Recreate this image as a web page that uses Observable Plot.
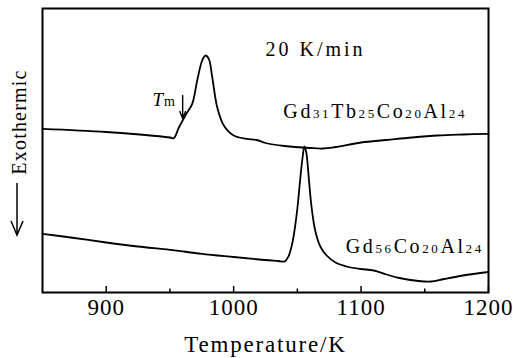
<!DOCTYPE html>
<html><head><meta charset="utf-8">
<script src="https://cdn.jsdelivr.net/npm/d3@7"></script>
<script src="https://cdn.jsdelivr.net/npm/@observablehq/plot@0.6"></script>
<style>body{margin:0;background:#fff}</style>
</head><body><div id="chart"></div>
<script>
// Gd31Tb25Co20Al24 DSC trace
const temp1 = [850, 900, 950, 953, 957, 960, 963.5, 967.5, 971.4, 975.3, 977.9, 980.5, 983.2, 987.1, 992.3, 1000, 1010, 1018, 1025, 1040, 1060, 1070, 1080, 1100, 1120, 1140, 1160, 1180, 1200];
const signal1 = [163.7, 160.5, 155, 154.3, 165, 172, 180, 188.7, 212, 232, 237, 233.7, 215.3, 185.3, 167, 157, 153.7, 152.5, 149.5, 146.5, 144.5, 144, 145.5, 150, 152.5, 155, 157, 158, 158.7];
// Gd56Co20Al24 DSC trace
const temp2 = [850, 875, 900, 925, 950, 975, 1000, 1020, 1035, 1040, 1043, 1046, 1048, 1050, 1052, 1054, 1055.5, 1057, 1059, 1061, 1064, 1068, 1073, 1080, 1090, 1100, 1110, 1120, 1130, 1145, 1155, 1165, 1180, 1200];
const signal2 = [58.7, 54.5, 50, 46, 42.7, 38.7, 35.5, 33, 31.5, 31, 36, 49, 64, 84, 110, 134, 146, 140, 114, 87, 62, 46, 37, 30, 25.5, 23.5, 22, 18, 14.5, 11.5, 11, 13.5, 17, 20.5];

const xTicks = [900, 1000, 1100, 1200];
const xMinorTicks = [950, 1050, 1150];
const seriesLabels = ["Gd31Tb25Co20Al24", "Gd56Co20Al24"];
const seriesLabelX = [1039, 1088];
const seriesLabelY = [175, 39.3];
const rateLabel = "20 K/min";
const rateX = 1025, rateY = 237;
const tmLabel = "Tm";
const tmTextX = 936.3, tmTextY = 187;
const tmArrowX = 960, tmArrowY1 = 197, tmArrowY2 = 174;
const xLabel = "Temperature/K";
const yLabel = "Exothermic";

const FONT = "'Liberation Serif', 'Times New Roman', serif";
const W = 513, H = 358, mT = 8, mB = 66, mL = 42, mR = 25;
const innerH = H - mT - mB;

const d1 = temp1.map((t, i) => ({t, v: signal1[i]}));
const d2 = temp2.map((t, i) => ({t, v: signal2[i]}));
const labelData = seriesLabels.map((s, i) => ({s, x: seriesLabelX[i], y: seriesLabelY[i]}));

const plot = Plot.plot({
  width: W, height: H,
  marginTop: mT, marginBottom: mB, marginLeft: mL, marginRight: mR,
  style: {fontFamily: FONT, background: "#fff", color: "#000"},
  x: {domain: [850, 1200]},
  y: {domain: [0, innerH], axis: null},
  marks: [
    Plot.axisX({ticks: xTicks, tickSize: 0, tickPadding: 6, tickFormat: d => String(d), fontSize: 23, fontFamily: FONT, label: null}),
    Plot.ruleX(xTicks, {x: d => d, insetTop: innerH - 6, strokeWidth: 1.5, stroke: "#000"}),
    Plot.ruleX(xMinorTicks, {x: d => d, insetTop: innerH - 3.5, strokeWidth: 1.5, stroke: "#000"}),
    Plot.line(d1, {x: "t", y: "v", curve: "catmull-rom", strokeWidth: 1.8, stroke: "#000"}),
    Plot.line(d2, {x: "t", y: "v", curve: "catmull-rom", strokeWidth: 1.8, stroke: "#000"}),
    Plot.frame({stroke: "#000", strokeWidth: 2}),
    Plot.text(labelData, {x: "x", y: "y", text: "s", textAnchor: "start", lineAnchor: "bottom", fontSize: 20, fontFamily: FONT, fill: "#000", ariaLabel: () => "serieslabel"}),
    Plot.text([rateLabel], {x: () => rateX, y: () => rateY, text: d => d, textAnchor: "start", lineAnchor: "bottom", fontSize: 20, fontFamily: FONT, fill: "#000", ariaLabel: () => "rate"}),
    Plot.text([tmLabel], {x: () => tmTextX, y: () => tmTextY, text: d => d, textAnchor: "start", lineAnchor: "bottom", fontSize: 19, fontFamily: FONT, fill: "#000", ariaLabel: () => "tm"}),
    Plot.arrow([0], {x1: () => tmArrowX, x2: () => tmArrowX, y1: () => tmArrowY1, y2: () => tmArrowY2, headLength: 8, headAngle: 45, strokeWidth: 1.4, stroke: "#000"}),
    Plot.text([xLabel], {frameAnchor: "bottom", dy: 59, lineAnchor: "bottom", text: d => d, fontSize: 23, fontFamily: FONT, fill: "#000", ariaLabel: () => "xlabel"})
  ]
});

document.getElementById("chart").appendChild(plot);
const svg = d3.select(plot);

svg.selectAll('g[aria-label="x-axis tick label"] text').attr("letter-spacing", 1);
svg.selectAll('text[aria-label="xlabel"]').attr("letter-spacing", 1.8);
svg.selectAll('text[aria-label="rate"]').attr("letter-spacing", 3);

// subscripts in compound names
svg.selectAll('text[aria-label="serieslabel"]').each(function() {
  const t = d3.select(this);
  const s = t.text();
  t.text(null).attr("letter-spacing", 2.6);
  s.split(/(\d+)/).filter(p => p).forEach(p => {
    const ts = t.append("tspan").text(p);
    if (/^\d+$/.test(p)) ts.attr("font-size", 13);
  });
});

// T (italic) + m (smaller, upright)
svg.selectAll('text[aria-label="tm"]').each(function() {
  const t = d3.select(this);
  const s = t.text();
  t.text(null);
  t.append("tspan").attr("font-style", "italic").text(s[0]);
  t.append("tspan").attr("font-size", 14).attr("dx", 1).text(s.slice(1));
});

// y label with arrow in the left margin
svg.append("text")
  .attr("transform", "translate(26,122) rotate(-90)")
  .attr("text-anchor", "middle")
  .attr("font-size", 20)
  .attr("letter-spacing", 1.2)
  .attr("fill", "#000")
  .text(yLabel);
svg.append("line").attr("x1", 17).attr("x2", 17).attr("y1", 183).attr("y2", 234)
  .attr("stroke", "#000").attr("stroke-width", 1.5);
svg.append("polyline").attr("points", "11,221 17,235 23,221")
  .attr("fill", "none").attr("stroke", "#000").attr("stroke-width", 1.5);

// make sure every text uses the serif face
svg.selectAll("text").style("font-family", FONT);
</script>
</body></html>
